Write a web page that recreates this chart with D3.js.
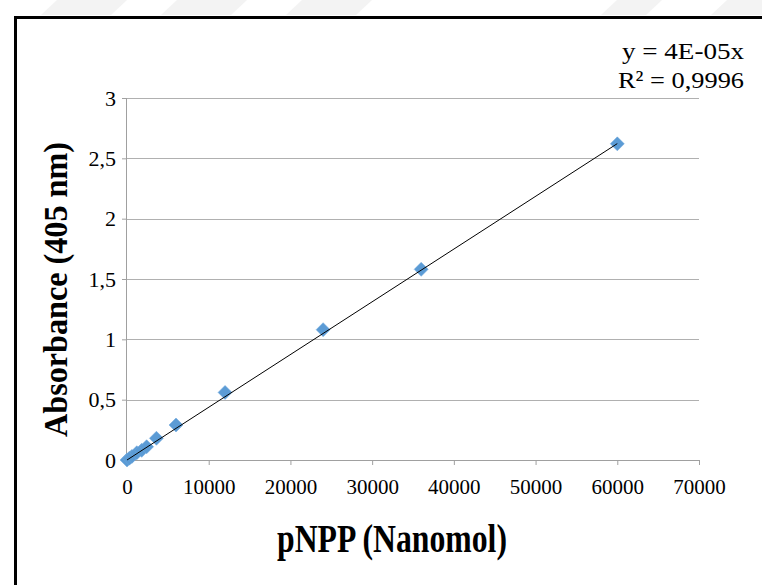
<!DOCTYPE html>
<html>
<head>
<meta charset="utf-8">
<script src="https://cdn.jsdelivr.net/npm/d3@7"></script>
<style>
  body { margin: 0; background: #fff; }
  svg text { font-family: "Liberation Serif", "Times New Roman", serif; fill: #000; }
</style>
</head>
<body>
<svg id="chart" width="762" height="585"></svg>
<script>
// pNPP amount (nanomol) vs absorbance at 405 nm
var pnpp = [0, 300, 600, 1200, 1800, 2400, 3600, 6000, 12000, 24000, 36000, 60000];
var absorbance = [0, 0.015, 0.03, 0.06, 0.08, 0.11, 0.18, 0.29, 0.56, 1.08, 1.58, 2.62];
var xTicks = [0, 10000, 20000, 30000, 40000, 50000, 60000, 70000];
var yTicks = [0, 0.5, 1, 1.5, 2, 2.5, 3];
var slope = 4.37e-5; // fitted trend through origin
var eqLines = ["y = 4E-05x", "R\u00b2 = 0,9996"];

var svg = d3.select("#chart");
var margin = {left: 127, right: 63, top: 98, bottom: 125};
var width = 762 - margin.left - margin.right,
    height = 585 - margin.top - margin.bottom;

// faint watermark strip at the top
var wm = [[45, 115], [165, 235], [290, 360], [605, 650], [715, 790]];
svg.selectAll("polygon.wm")
  .data(wm)
  .enter().append("polygon")
    .attr("class", "wm")
    .attr("points", function(d){ return (d[0]+12)+",0 "+(d[1]+12)+",0 "+(d[1]-4)+",15 "+(d[0]-4)+",15"; })
    .attr("fill", "#f3f3f3");

// outer frame (runs off the right and bottom edges)
svg.append("rect")
  .attr("x", 15.5).attr("y", 17.5)
  .attr("width", 780).attr("height", 600)
  .attr("fill", "none")
  .attr("stroke", "#000")
  .attr("stroke-width", 3);

var x = d3.scaleLinear().domain([0, 70000]).range([0, width]);
var y = d3.scaleLinear().domain([0, 3]).range([height, 0]);

var g = svg.append("g")
  .attr("transform", "translate(" + margin.left + "," + margin.top + ")");

// gridlines
g.selectAll("line.grid")
  .data(yTicks.slice(1))
  .enter().append("line")
    .attr("class", "grid")
    .attr("x1", 0).attr("x2", width)
    .attr("y1", function(d){ return Math.round(y(d)) + 0.5; })
    .attr("y2", function(d){ return Math.round(y(d)) + 0.5; })
    .attr("stroke", "#b0b0b0");

var yAxis = g.append("g")
  .call(d3.axisLeft(y).tickValues(yTicks).tickSize(5).tickPadding(6)
    .tickFormat(function(d){ return String(d).replace(".", ","); }));
var xAxis = g.append("g")
  .attr("transform", "translate(0," + height + ")")
  .call(d3.axisBottom(x).tickValues(xTicks).tickSize(5).tickPadding(14)
    .tickFormat(d3.format("d")));

yAxis.attr("font-family", null).attr("font-size", 22);
xAxis.attr("font-family", null).attr("font-size", 21);
yAxis.select(".domain").attr("stroke", "#a0a0a0").attr("d", "M-0.5,0V" + height);
xAxis.select(".domain").attr("stroke", "#a0a0a0").attr("d", "M0,0.5H" + width);
g.selectAll(".tick line").attr("stroke", "#a0a0a0");

// markers
g.selectAll("path.pt")
  .data(pnpp)
  .enter().append("path")
    .attr("class", "pt")
    .attr("d", d3.symbol().type(d3.symbolSquare).size(98))
    .attr("transform", function(d, i){ return "translate(" + x(d) + "," + y(absorbance[i]) + ") rotate(45)"; })
    .attr("fill", "#5b9bd5")
    .attr("stroke", "#6fa8dc")
    .attr("stroke-width", 0.5);

// linear trendline
g.append("line")
  .attr("x1", x(0)).attr("y1", y(0))
  .attr("x2", x(60000)).attr("y2", y(slope * 60000))
  .attr("stroke", "#000")
  .attr("stroke-width", 1);

// equation label
var eqWidths = [122, 126];
svg.selectAll("text.eq")
  .data(eqLines)
  .enter().append("text")
    .attr("class", "eq")
    .attr("x", function(d, i){ return 744 - eqWidths[i]; })
    .attr("y", function(d, i){ return 59 + i * 29; })
    .attr("font-size", 24)
    .attr("textLength", function(d, i){ return eqWidths[i]; })
    .attr("lengthAdjust", "spacingAndGlyphs")
    .text(function(d){ return d; });

// axis titles
svg.append("text")
  .attr("x", 277)
  .attr("y", 552)
  .attr("font-size", 40)
  .attr("font-weight", "bold")
  .attr("textLength", 230)
  .attr("lengthAdjust", "spacingAndGlyphs")
  .text("pNPP (Nanomol)");

svg.append("text")
  .attr("transform", "translate(67,437) rotate(-90)")
  .attr("font-size", 33)
  .attr("font-weight", "bold")
  .attr("textLength", 295)
  .attr("lengthAdjust", "spacingAndGlyphs")
  .text("Absorbance (405 nm)");
</script>
</body>
</html>
